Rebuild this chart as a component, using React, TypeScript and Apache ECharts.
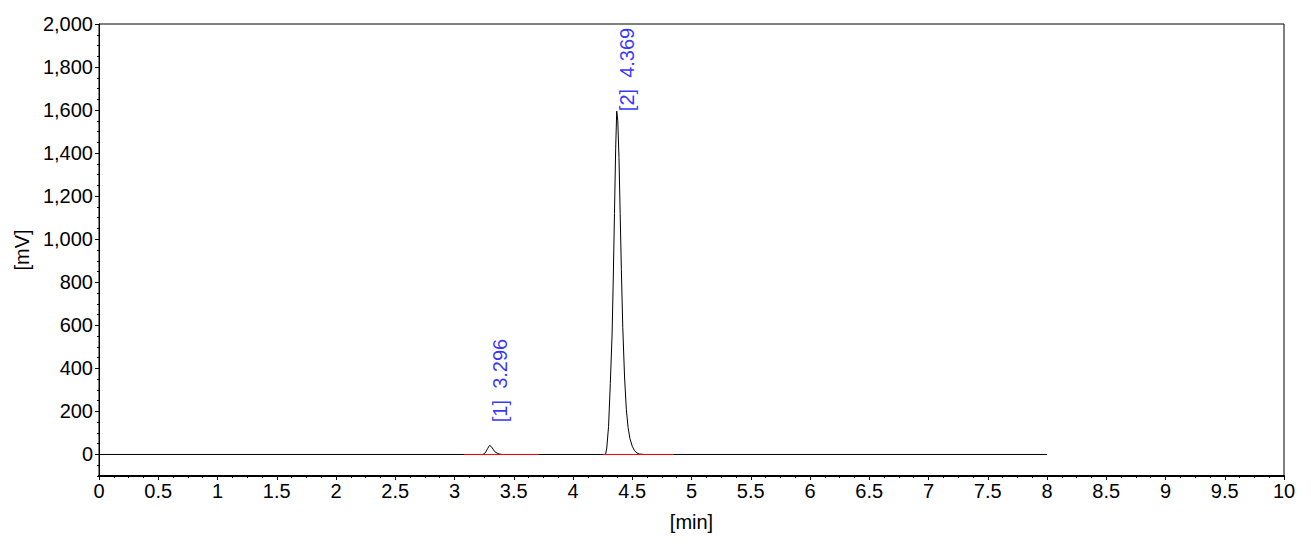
import React, { useEffect, useRef } from "react";
import * as echarts from "echarts";

// Chromatogram trace (time in min, signal in mV)
const traceTime = [
  0, 3.24, 3.26, 3.28, 3.296, 3.31, 3.325, 3.34, 3.36, 3.38, 3.4,
  4.275, 4.285, 4.3, 4.315, 4.33, 4.34, 4.35, 4.36, 4.369, 4.378, 4.388,
  4.398, 4.408, 4.42, 4.435, 4.45, 4.465, 4.48, 4.5, 4.52, 4.54, 4.56, 4.6, 8.0,
];
const traceMv = [
  0, 0, 8, 28, 42, 37, 25, 13, 6, 2, 0,
  0, 30, 130, 330, 560, 820, 1120, 1420, 1595, 1550, 1380,
  1120, 860, 590, 360, 210, 125, 75, 38, 17, 7, 2, 0, 0,
];

// Peak annotations
const peakNames = ["[1]", "[2]"];
const peakTimes = [3.296, 4.369];
const peakLabelMv = [150, 1595];

// Integration baselines (start, end in min)
const baselineStart = [3.08, 4.253];
const baselineEnd = [3.71, 4.844];

// Axis ticks
const yLabelValues = [0, 200, 400, 600, 800, 1000, 1200, 1400, 1600, 1800, 2000];

const FONT = "'Liberation Sans', Arial, sans-serif";

export default function App() {
  const ref = useRef<HTMLDivElement>(null);

  useEffect(() => {
    const chart = echarts.init(ref.current!, null, { renderer: "svg" });

    const baselineSeries = baselineStart.map((s, i) => ({
      type: "line",
      data: [
        [s, 0],
        [baselineEnd[i], 0],
      ],
      symbol: "none",
      lineStyle: { color: "#ff0000", width: 1 },
      z: 3,
      silent: true,
    }));

    chart.setOption({
      animation: false,
      backgroundColor: "#ffffff",
      grid: {
        left: 99,
        right: 27,
        top: 24,
        bottom: 71,
        show: true,
        borderColor: "#000",
        borderWidth: 1,
        backgroundColor: "transparent",
      },
      xAxis: {
        type: "value",
        min: 0,
        max: 10,
        interval: 0.5,
        name: "[min]",
        nameLocation: "middle",
        nameGap: 36,
        nameTextStyle: { color: "#000", fontSize: 20, fontFamily: FONT },
        axisLine: { show: true, onZero: false, lineStyle: { color: "#000", width: 2 } },
        axisTick: { show: true, length: 4, lineStyle: { color: "#000" } },
        minorTick: { show: true, splitNumber: 4, length: 2, lineStyle: { color: "#000" } },
        axisLabel: { color: "#000", fontSize: 20, fontFamily: FONT, margin: 5 },
        splitLine: { show: false },
        minorSplitLine: { show: false },
      },
      yAxis: [
        {
          type: "value",
          min: -100,
          max: 2000,
          interval: 100,
          name: "[mV]",
          nameLocation: "middle",
          nameGap: 67,
          nameTextStyle: { color: "#000", fontSize: 20, fontFamily: FONT },
          axisLine: { show: true, onZero: false, lineStyle: { color: "#000", width: 1 } },
          axisTick: {
            show: true,
            length: 4,
            customValues: yLabelValues,
            lineStyle: { color: "#000" },
          },
          axisLabel: {
            customValues: yLabelValues,
            color: "#000",
            fontSize: 20,
            fontFamily: FONT,
            margin: 6,
            formatter: (v: number) => v.toLocaleString("en-US"),
          },
          splitLine: { show: false },
        },
        {
          type: "value",
          min: -100,
          max: 2000,
          interval: 50,
          position: "left",
          axisLine: { show: false, onZero: false },
          axisTick: { show: true, length: 2, lineStyle: { color: "#000" } },
          axisLabel: { show: false },
          splitLine: { show: false },
        },
      ],
      series: [
        {
          type: "line",
          data: traceTime.map((t, i) => [t, traceMv[i]]),
          symbol: "none",
          lineStyle: { color: "#000", width: 1 },
          z: 2,
          silent: true,
        },
        ...baselineSeries,
        {
          type: "scatter",
          data: peakTimes.map((t, i) => [t, peakLabelMv[i]]),
          symbolSize: 0,
          itemStyle: { color: "transparent" },
          z: 4,
          silent: true,
          label: {
            show: true,
            position: [0, 0],
            rotate: 90,
            align: "left",
            verticalAlign: "top",
            color: "#0000ff",
            fontSize: 20,
            fontFamily: FONT,
            formatter: (p: any) =>
              peakNames[p.dataIndex] + "  " + peakTimes[p.dataIndex].toFixed(3),
          },
        },
      ],
    });

    return () => chart.dispose();
  }, []);

  return (
    <div
      ref={ref}
      style={{
        position: "absolute",
        left: 0,
        top: 0,
        width: 1311,
        height: 547,
        background: "#fff",
      }}
    />
  );
}
